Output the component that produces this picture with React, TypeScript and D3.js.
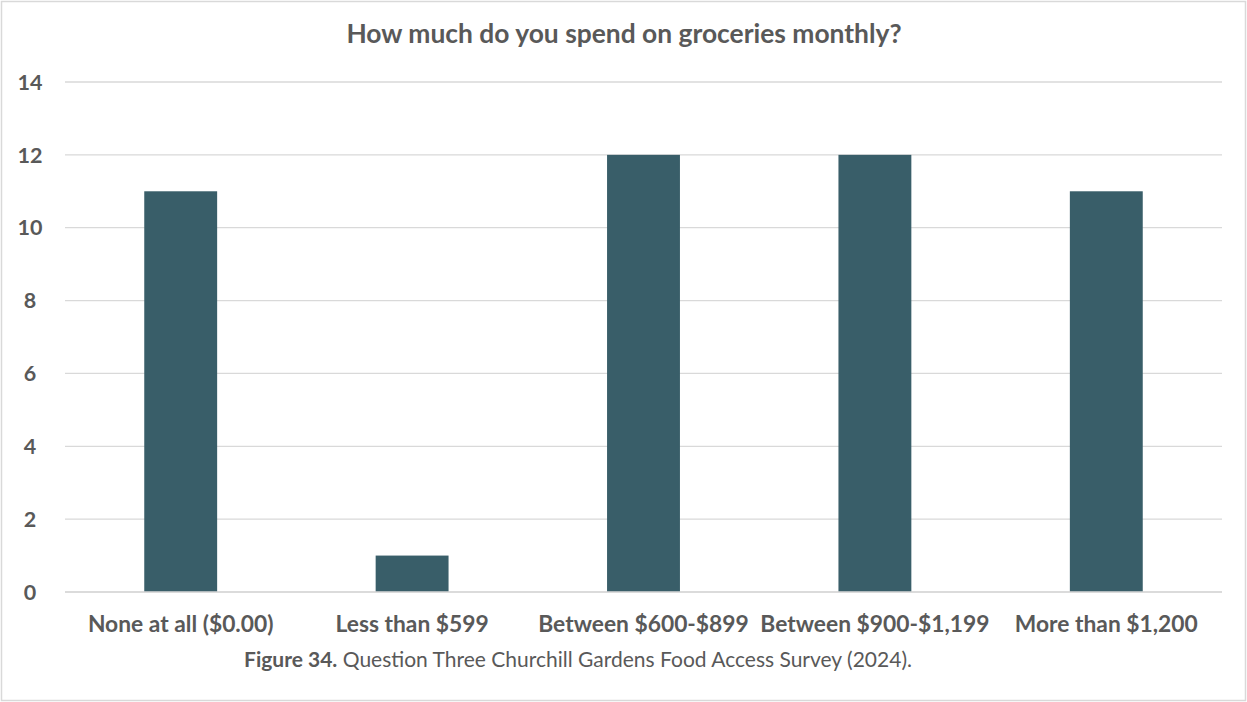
import React from "react";
import * as d3 from "d3";

const categories: string[] = [
  "None at all ($0.00)",
  "Less than $599",
  "Between $600-$899",
  "Between $900-$1,199",
  "More than $1,200",
];
const counts: number[] = [11, 1, 12, 12, 11];
const yTicks: number[] = [0, 2, 4, 6, 8, 10, 12, 14];
const titleText = "How much do you spend on groceries monthly?";
const captionBold = "Figure 34.";
const captionRest = " Question Three Churchill Gardens Food Access Survey (2024).";

const W = 1247;
const H = 702;
const left = 65;
const right = 1222;
const top = 82;
const bottom = 592;
const textColor = "#595959";
const barColor = "#395e69";
const gridColor = "#d9d9d9";
const font = "Lato, 'Open Sans', sans-serif";

export default function App() {
  const x = d3
    .scaleBand<string>()
    .domain(categories)
    .range([left, right])
    .paddingInner(0.685)
    .paddingOuter(0.3425);
  const y = d3.scaleLinear().domain([0, 14]).range([bottom, top]);

  return (
    <div style={{ position: "absolute", left: 0, top: 0 }}>
      <svg width={W} height={H} style={{ display: "block" }}>
        <rect x={0} y={0} width={W} height={H} fill="#ffffff" />
        <rect x={1.5} y={1.5} width={W - 3} height={H - 3} fill="none" stroke={gridColor} strokeWidth={1.5} />
        <text
          x={624}
          y={43}
          textAnchor="middle"
          fontFamily={font}
          fontWeight={700}
          fontSize={26.4}
          fill={textColor}
        >
          {titleText}
        </text>
        {yTicks.map((t) => (
          <g key={t}>
            <line x1={left} x2={right} y1={y(t)} y2={y(t)} stroke={gridColor} strokeWidth={1.3} />
            <text
              x={30}
              y={y(t)}
              dy="0.36em"
              textAnchor="middle"
              fontFamily={font}
              fontWeight={700}
              fontSize={21.5}
              fill={textColor}
            >
              {t}
            </text>
          </g>
        ))}
        {categories.map((c, i) => (
          <rect
            key={c}
            x={x(c)}
            y={y(counts[i])}
            width={x.bandwidth()}
            height={y(0) - y(counts[i])}
            fill={barColor}
          />
        ))}
        <line x1={left} x2={right} y1={y(0)} y2={y(0)} stroke={gridColor} strokeWidth={1.5} />
        {categories.map((c) => (
          <text
            key={c}
            x={(x(c) as number) + x.bandwidth() / 2}
            y={632}
            textAnchor="middle"
            fontFamily={font}
            fontWeight={700}
            fontSize={22.8}
            fill={textColor}
          >
            {c}
          </text>
        ))}
        <text
          x={578}
          y={667}
          textAnchor="middle"
          fontFamily={font}
          fontSize={21}
          fill={textColor}
        >
          <tspan fontWeight={700}>{captionBold}</tspan>
          <tspan>{captionRest}</tspan>
        </text>
      </svg>
    </div>
  );
}
